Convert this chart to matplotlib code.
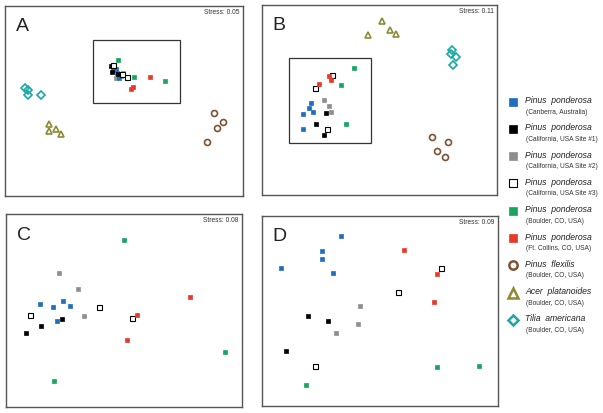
import matplotlib
matplotlib.use("Agg")
import matplotlib.pyplot as plt
from matplotlib.patches import Rectangle

W, H = 603, 413
fig = plt.figure(figsize=(W / 100, H / 100), dpi=100)
plt.rcParams["font.family"] = ["Liberation Sans", "DejaVu Sans"]

# ---- group styles ----
groups = ["canberra", "calif1", "calif2", "calif3", "boulder", "ftcollins",
          "flexilis", "acer", "tilia"]
species = ["Pinus  ponderosa", "Pinus  ponderosa", "Pinus  ponderosa",
           "Pinus  ponderosa", "Pinus  ponderosa", "Pinus  ponderosa",
           "Pinus  flexilis", "Acer  platanoides", "Tilia  americana"]
sites = ["(Canberra, Australia)", "(California, USA Site #1)",
         "(California, USA Site #2)", "(California, USA Site #3)",
         "(Boulder, CO, USA)", "(Ft. Collins, CO, USA)",
         "(Boulder, CO, USA)", "(Boulder, CO, USA)", "(Boulder, CO, USA)"]
style = {
    "canberra": dict(marker="s", mfc="#1f6ebf", mec="#1f6ebf", ms=3.4, mew=0.5),
    "calif1": dict(marker="s", mfc="#000000", mec="#000000", ms=3.4, mew=0.5),
    "calif2": dict(marker="s", mfc="#8f8f8f", mec="#8f8f8f", ms=3.4, mew=0.5),
    "calif3": dict(marker="s", mfc="white", mec="#000000", ms=3.6, mew=0.8),
    "boulder": dict(marker="s", mfc="#17a560", mec="#17a560", ms=3.4, mew=0.5),
    "ftcollins": dict(marker="s", mfc="#e8392b", mec="#e8392b", ms=3.4, mew=0.5),
    "flexilis": dict(marker="o", mfc="none", mec="#7d5333", ms=4.3, mew=1.2),
    "acer": dict(marker="^", mfc="none", mec="#8c8a35", ms=4.8, mew=1.2),
    "tilia": dict(marker="D", mfc="none", mec="#16a9a5", ms=3.6, mew=1.2),
}

# ---- panel A (NMDS coordinates, pixel units) ----
A_canberra = [(116, 69), (119, 78), (117, 73), (113, 70), (120, 75)]
A_calif1 = [(111, 66), (112, 72), (118, 74)]
A_calif2 = [(116, 78), (123, 73), (121, 76)]
A_calif3 = [(113, 65), (127, 77), (122, 74)]
A_boulder = [(118, 60), (134, 77), (165, 81)]
A_ftcollins = [(150, 77), (133, 87), (131, 89)]
A_flexilis = [(214, 113), (223, 122), (217, 128), (207, 142)]
A_acer = [(49, 124), (49, 131), (56, 129), (61, 134)]
A_tilia = [(25, 88), (28, 90), (28, 95), (41, 95)]

# ---- panel B ----
B_canberra = [(311, 103), (309, 108), (313, 112), (303, 114), (303, 129)]
B_calif1 = [(326, 113), (316, 124), (324, 135)]
B_calif2 = [(324, 100), (329, 106), (331, 112)]
B_calif3 = [(332, 75), (315, 88), (327, 129)]
B_boulder = [(354, 68), (341, 85), (346, 124)]
B_ftcollins = [(329, 76), (331, 80), (319, 84)]
B_flexilis = [(432, 137), (448, 142), (437, 151), (445, 157)]
B_acer = [(382, 21), (390, 30), (396, 34), (368, 35)]
B_tilia = [(452, 50), (451, 54), (456, 57), (453, 65)]

# ---- panel C ----
C_canberra = [(40, 304), (53, 307), (63, 301), (70, 306), (57, 321)]
C_calif1 = [(62, 319), (41, 326), (26, 333)]
C_calif2 = [(59, 273), (78, 289), (84, 316)]
C_calif3 = [(30, 315), (99, 307), (132, 318)]
C_boulder = [(124, 240), (225, 352), (54, 381)]
C_ftcollins = [(190, 297), (137, 315), (127, 340)]

# ---- panel D ----
D_canberra = [(341, 236), (322, 251), (322, 259), (281, 268), (333, 273)]
D_calif1 = [(308, 316), (328, 321), (286, 351)]
D_calif2 = [(360, 306), (358, 324), (336, 333)]
D_calif3 = [(441, 268), (398, 292), (315, 366)]
D_boulder = [(437, 367), (479, 366), (306, 385)]
D_ftcollins = [(404, 250), (437, 274), (434, 302)]

panels = [
    dict(label="A", stress="Stress: 0.05", box=(5, 243, 6, 196),
         inner=(93, 180, 40, 103),
         data=dict(canberra=A_canberra, calif1=A_calif1, calif2=A_calif2,
                   calif3=A_calif3, boulder=A_boulder, ftcollins=A_ftcollins,
                   flexilis=A_flexilis, acer=A_acer, tilia=A_tilia)),
    dict(label="B", stress="Stress: 0.11", box=(262, 497, 5, 195),
         inner=(289, 371, 58, 143),
         data=dict(canberra=B_canberra, calif1=B_calif1, calif2=B_calif2,
                   calif3=B_calif3, boulder=B_boulder, ftcollins=B_ftcollins,
                   flexilis=B_flexilis, acer=B_acer, tilia=B_tilia)),
    dict(label="C", stress="Stress: 0.08", box=(6, 242, 214, 407), inner=None,
         data=dict(canberra=C_canberra, calif1=C_calif1, calif2=C_calif2,
                   calif3=C_calif3, boulder=C_boulder, ftcollins=C_ftcollins)),
    dict(label="D", stress="Stress: 0.09", box=(262, 498, 216, 406), inner=None,
         data=dict(canberra=D_canberra, calif1=D_calif1, calif2=D_calif2,
                   calif3=D_calif3, boulder=D_boulder, ftcollins=D_ftcollins)),
]

for p in panels:
    x0, x1, y0, y1 = p["box"]
    ax = fig.add_axes([x0 / W, 1 - y1 / H, (x1 - x0) / W, (y1 - y0) / H])
    ax.set_xlim(x0, x1)
    ax.set_ylim(y1, y0)
    ax.set_xticks([])
    ax.set_yticks([])
    for s in ax.spines.values():
        s.set_color("#555555")
        s.set_linewidth(1.0)
    if p["inner"] is not None:
        ix0, ix1, iy0, iy1 = p["inner"]
        ax.add_patch(Rectangle((ix0, iy0), ix1 - ix0, iy1 - iy0, fill=False,
                               ec="#333333", lw=0.9, zorder=1))
    order = ["flexilis", "acer", "tilia", "calif2", "canberra", "calif1",
             "calif3", "boulder", "ftcollins"]
    for g in order:
        if g not in p["data"]:
            continue
        pts = p["data"][g]
        xs = [q[0] for q in pts]
        ys = [q[1] for q in pts]
        ax.plot(xs, ys, linestyle="none", zorder=3, **style[g])
    ax.text(0.045, 0.935, p["label"], transform=ax.transAxes, fontsize=14,
            ha="left", va="top", color="#222222")
    ax.text(0.985, 0.985, p["stress"], transform=ax.transAxes, fontsize=4.8,
            ha="right", va="top", color="#333333")

# ---- legend ----
lax = fig.add_axes([500 / W, 0, (W - 500) / W, 1])
lax.set_xlim(500, W)
lax.set_ylim(H, 0)
lax.axis("off")
leg_ms = {"s": 5.8, "o": 6.0, "^": 7.2, "D": 5.0}
for i, g in enumerate(groups):
    y = 101.5 + 27.3 * i
    st = dict(style[g])
    st["ms"] = leg_ms[st["marker"]]
    if st["marker"] != "s":
        st["mew"] = 1.8
    lax.plot([513], [y], linestyle="none", clip_on=False, **st)
    lax.text(525, y - 1, species[i], fontsize=6.2, style="italic",
             ha="left", va="center", color="#222222")
    lax.text(526, y + 10.5, sites[i], fontsize=4.8,
             ha="left", va="center", color="#333333")

fig.savefig("out.png", dpi=100)
